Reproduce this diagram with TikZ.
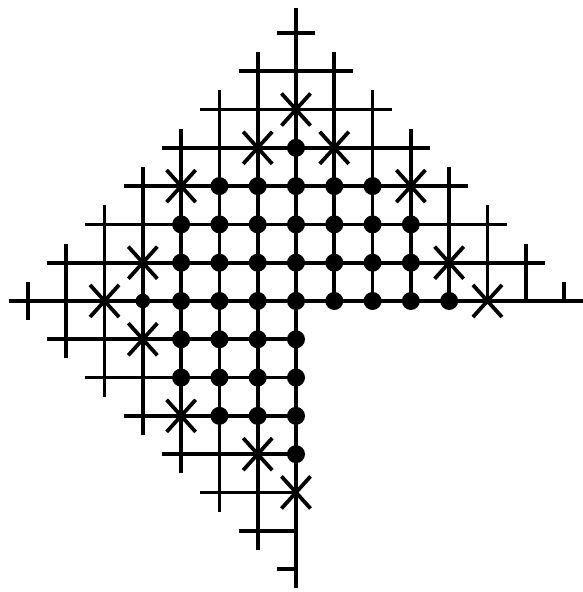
\documentclass[tikz,border=0pt]{standalone}
\usepackage{tikz}
\usetikzlibrary{shapes.misc}

\begin{document}
\begin{tikzpicture}[line width=2.8pt,
  gridline/.style={draw=black,line width=2.8pt},
  dot/.style={circle,fill=black,inner sep=0pt,minimum size=0.47cm},
  xmark/.style={cross out,draw=black,line width=2.8pt,inner sep=0pt,minimum width=0.66cm,minimum height=0.74cm}]
\useasboundingbox (-7.73,-7.60) rectangle (7.47,7.86);
% vertical lines
\draw[gridline] (-7,-0.5)--(-7,0.5);
\draw[gridline] (-6,-1.5)--(-6,1.5);
\draw[gridline] (-5,-2.5)--(-5,2.5);
\draw[gridline] (-4,-3.5)--(-4,3.5);
\draw[gridline] (-3,-4.5)--(-3,4.5);
\draw[gridline] (-2,-5.5)--(-2,5.5);
\draw[gridline] (-1,-6.5)--(-1,6.5);
\draw[gridline] (0,-7.5)--(0,7.65);
\draw[gridline] (1,0)--(1,6.5);
\draw[gridline] (2,0)--(2,5.5);
\draw[gridline] (3,0)--(3,4.5);
\draw[gridline] (4,0)--(4,3.5);
\draw[gridline] (5,0)--(5,2.5);
\draw[gridline] (6,0)--(6,1.5);
\draw[gridline] (7,0)--(7,0.5);
% horizontal lines
\draw[gridline] (-0.5,7)--(0.5,7);
\draw[gridline] (-1.5,6)--(1.5,6);
\draw[gridline] (-2.5,5)--(2.5,5);
\draw[gridline] (-3.5,4)--(3.5,4);
\draw[gridline] (-4.5,3)--(4.5,3);
\draw[gridline] (-5.5,2)--(5.5,2);
\draw[gridline] (-6.5,1)--(6.5,1);
\draw[gridline] (-7.5,0)--(7.5,0);
\draw[gridline] (-6.5,-1)--(0,-1);
\draw[gridline] (-5.5,-2)--(0,-2);
\draw[gridline] (-4.5,-3)--(0,-3);
\draw[gridline] (-3.5,-4)--(0,-4);
\draw[gridline] (-2.5,-5)--(0,-5);
\draw[gridline] (-1.5,-6)--(0,-6);
\draw[gridline] (-0.5,-7)--(0,-7);
% filled points
\node[dot] (d1) at (0,4) {};
\node[dot] (d2) at (-2,3) {};
\node[dot] (d3) at (-1,3) {};
\node[dot] (d4) at (0,3) {};
\node[dot] (d5) at (1,3) {};
\node[dot] (d6) at (2,3) {};
\node[dot] (d7) at (-3,2) {};
\node[dot] (d8) at (-2,2) {};
\node[dot] (d9) at (-1,2) {};
\node[dot] (d10) at (0,2) {};
\node[dot] (d11) at (1,2) {};
\node[dot] (d12) at (2,2) {};
\node[dot] (d13) at (3,2) {};
\node[dot] (d14) at (-3,1) {};
\node[dot] (d15) at (-2,1) {};
\node[dot] (d16) at (-1,1) {};
\node[dot] (d17) at (0,1) {};
\node[dot] (d18) at (1,1) {};
\node[dot] (d19) at (2,1) {};
\node[dot] (d20) at (3,1) {};
\node[dot,minimum size=0.38cm] (d21) at (-4,0) {};
\node[dot] (d22) at (-3,0) {};
\node[dot] (d23) at (-2,0) {};
\node[dot] (d24) at (-1,0) {};
\node[dot] (d25) at (0,0) {};
\node[dot] (d26) at (1,0) {};
\node[dot] (d27) at (2,0) {};
\node[dot] (d28) at (3,0) {};
\node[dot] (d29) at (4,0) {};
\node[dot] (d30) at (-3,-1) {};
\node[dot] (d31) at (-2,-1) {};
\node[dot] (d32) at (-1,-1) {};
\node[dot] (d33) at (0,-1) {};
\node[dot] (d34) at (-3,-2) {};
\node[dot] (d35) at (-2,-2) {};
\node[dot] (d36) at (-1,-2) {};
\node[dot] (d37) at (0,-2) {};
\node[dot] (d38) at (-2,-3) {};
\node[dot] (d39) at (-1,-3) {};
\node[dot] (d40) at (0,-3) {};
\node[dot] (d41) at (0,-4) {};
% boundary points
\node[xmark] (c1) at (0,5) {};
\node[xmark] (c2) at (-1,4) {};
\node[xmark] (c3) at (1,4) {};
\node[xmark] (c4) at (-3,3) {};
\node[xmark] (c5) at (3,3) {};
\node[xmark] (c6) at (-4,1) {};
\node[xmark] (c7) at (4,1) {};
\node[xmark] (c8) at (-5,0) {};
\node[xmark] (c9) at (5,0) {};
\node[xmark] (c10) at (-4,-1) {};
\node[xmark] (c11) at (-3,-3) {};
\node[xmark] (c12) at (-1,-4) {};
\node[xmark] (c13) at (0,-5) {};
\end{tikzpicture}
\end{document}
